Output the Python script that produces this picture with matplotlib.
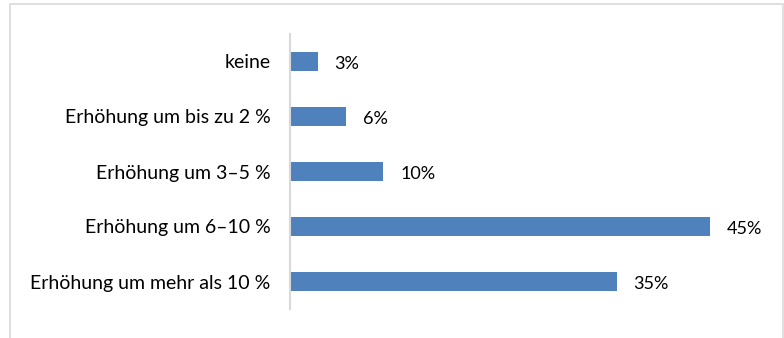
import matplotlib
matplotlib.use("Agg")
import matplotlib.pyplot as plt
from matplotlib.patches import Rectangle

plt.rcParams['font.family'] = ['Lato', 'DejaVu Sans']

categories = ["keine", "Erhöhung um bis zu 2 %", "Erhöhung um 3–5 %",
              "Erhöhung um 6–10 %", "Erhöhung um mehr als 10 %"]
values = [3, 6, 10, 45, 35]

W, H = 784, 338
fig = plt.figure(figsize=(W / 100, H / 100), dpi=100)

# light outer frame
fig.patches.append(Rectangle((10 / W, -0.05), 773 / W, 1.05 - 4 / H,
                             transform=fig.transFigure, fill=False,
                             edgecolor="#D9D9D9", lw=1.2))

ax = fig.add_axes([290 / W, 29 / H, 467 / W, 275 / H])
pos = range(len(categories))
ax.barh(pos, values, height=0.35, color="#4F81BD")
ax.set_ylim(len(categories) - 0.5, -0.5)
ax.set_xlim(0, 50)

for p, v in zip(pos, values):
    ax.annotate(f"{v}%", (v, p), xytext=(12, -1.5), textcoords="offset points",
                va="center", ha="left", fontsize=13, color="black")

ax.set_yticks(list(pos))
ax.set_yticklabels(categories, fontsize=14)
ax.tick_params(axis="y", length=0, pad=14)
ax.set_xticks([])
for s in ["top", "right", "bottom"]:
    ax.spines[s].set_visible(False)
ax.spines["left"].set_color("#D9D9D9")
ax.spines["left"].set_linewidth(1.5)

fig.savefig("out.png", dpi=100)
